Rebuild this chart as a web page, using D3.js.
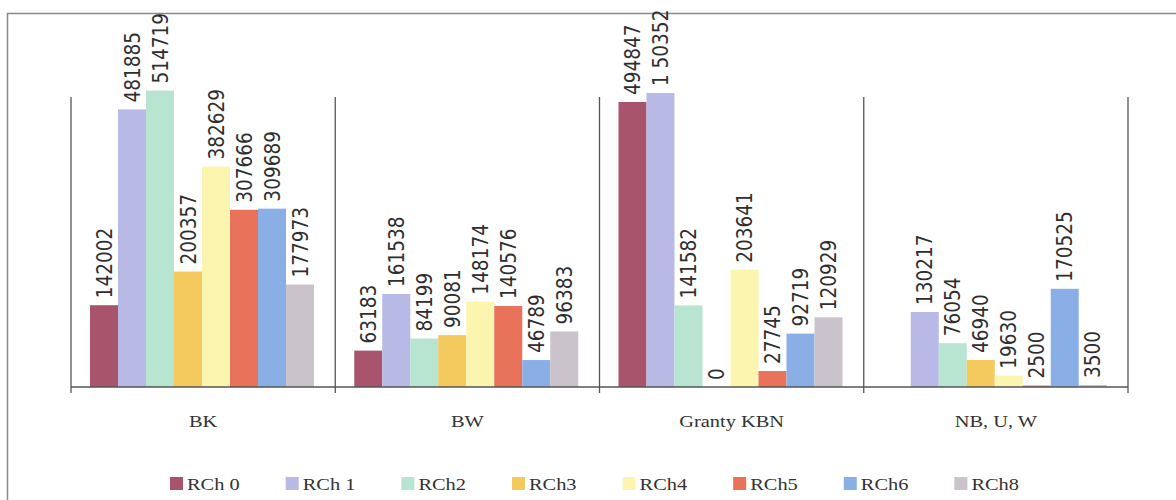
<!DOCTYPE html>
<html>
<head>
<meta charset="utf-8">
<script src="https://cdn.jsdelivr.net/npm/d3@7"></script>
<style>
  html, body { margin: 0; padding: 0; background: #ffffff; }
  svg { display: block; }
</style>
</head>
<body>
<svg id="chart" width="1176" height="500"></svg>
<script>
// ---- data ----
const categories = ["BK", "BW", "Granty KBN", "NB, U, W"];
const seriesNames = ["RCh 0", "RCh 1", "RCh2", "RCh3", "RCh4", "RCh5", "RCh6", "RCh8"];
const valuesBK     = [142002, 481885, 514719, 200357, 382629, 307666, 309689, 177973];
const valuesBW     = [63183, 161538, 84199, 90081, 148174, 140576, 46789, 96383];
const valuesGranty = [494847, 510352, 141582, 0, 203641, 27745, 92719, 120929];
const valuesNBUW   = [null, 130217, 76054, 46940, 19630, 2500, 170525, 3500];
const labelsGranty = ["494847", "1 50352", "141582", "0", "203641", "27745", "92719", "120929"];
const seriesColors = ["#a8546c", "#b9b9e6", "#b8e4d2", "#f4c95e", "#fbf5b0", "#e8725a", "#8aaee6", "#cbc3cc"];

const valuesByCategory = [valuesBK, valuesBW, valuesGranty, valuesNBUW];

// ---- layout ----
const svg = d3.select("#chart");
const baseY = 387;
const plotLeft = 71, plotRight = 1128;

const x0 = d3.scaleBand().domain(categories).range([plotLeft, plotRight]).paddingInner(0).paddingOuter(0);
const x1 = d3.scaleBand().domain(seriesNames).range([19, 243]).padding(0);
const y = d3.scaleLinear().domain([0, 520000]).range([baseY, 87.5]);
const color = d3.scaleOrdinal().domain(seriesNames).range(seriesColors);

// frame (top + left)
svg.append("path")
  .attr("d", "M7.5,500 L7.5,13.5 L1176,13.5")
  .attr("fill", "none").attr("stroke", "#8a8a8a").attr("stroke-width", 1.5);

// bars
const groups = svg.selectAll("g.cat")
  .data(categories.map((c, i) => ({ cat: c, vals: valuesByCategory[i] })))
  .join("g").attr("class", "cat")
  .attr("transform", d => `translate(${x0(d.cat)},0)`);

const barData = d => d.vals.map((v, j) => ({
  cat: d.cat, series: seriesNames[j], value: v,
  label: d.cat === "Granty KBN" ? labelsGranty[j] : (v == null ? null : String(v))
})).filter(e => e.value != null);

groups.selectAll("rect")
  .data(barData)
  .join("rect")
  .attr("x", d => x1(d.series))
  .attr("width", x1.bandwidth())
  .attr("y", d => y(d.value))
  .attr("height", d => baseY - y(d.value))
  .attr("fill", d => color(d.series));

// value labels (rotated)
groups.selectAll("text.val")
  .data(barData)
  .join("text").attr("class", "val")
  .attr("transform", d => `translate(${x1(d.series) + x1.bandwidth() / 2 + 7.5},${y(d.value) - 7}) scale(1.15,1) rotate(-90)`)
  .attr("font-family", "DejaVu Sans, sans-serif")
  .attr("font-size", 18.5)
  .attr("fill", "#2e2e2e")
  .attr("text-anchor", "start")
  .style("white-space", "pre")
  .text(d => d.label);

// x axis baseline and dividers
const axis = d3.axisBottom(x0).tickSize(0).tickFormat("");
svg.append("g").attr("transform", `translate(0,${baseY})`).call(axis)
  .call(g => g.select(".domain").attr("stroke", "#555").attr("stroke-width", 1.3).attr("d", `M${plotLeft},0H${plotRight}`));

const dividers = categories.map(c => x0(c)).concat([plotRight]);
svg.selectAll("line.div")
  .data(dividers)
  .join("line").attr("class", "div")
  .attr("x1", d => d).attr("x2", d => d)
  .attr("y1", 97).attr("y2", baseY + 6)
  .attr("stroke", "#555").attr("stroke-width", 1.3);

// category labels
svg.selectAll("text.cat")
  .data(categories)
  .join("text").attr("class", "cat")
  .attr("transform", d => `translate(${x0(d) + x0.bandwidth() / 2},427) scale(1.2,1)`)
  .attr("text-anchor", "middle")
  .attr("font-family", "Liberation Serif, Times New Roman, serif")
  .attr("font-size", 17)
  .attr("fill", "#333")
  .text(d => d);

// legend
const legend = svg.append("g").attr("class", "legend");
let lx = 170;
seriesNames.forEach((s, i) => {
  const item = legend.append("g").attr("transform", `translate(${lx},0)`);
  item.append("rect").attr("x", 0).attr("y", 477).attr("width", 13).attr("height", 13).attr("fill", color(s));
  const t = item.append("text")
    .attr("transform", "translate(17,490) scale(1.2,1)")
    .attr("font-family", "Liberation Serif, Times New Roman, serif")
    .attr("font-size", 17)
    .attr("fill", "#333")
    .text(s);
  const w = t.node().getComputedTextLength() * 1.2;
  lx += 17 + w + 46;
});
</script>
</body>
</html>
